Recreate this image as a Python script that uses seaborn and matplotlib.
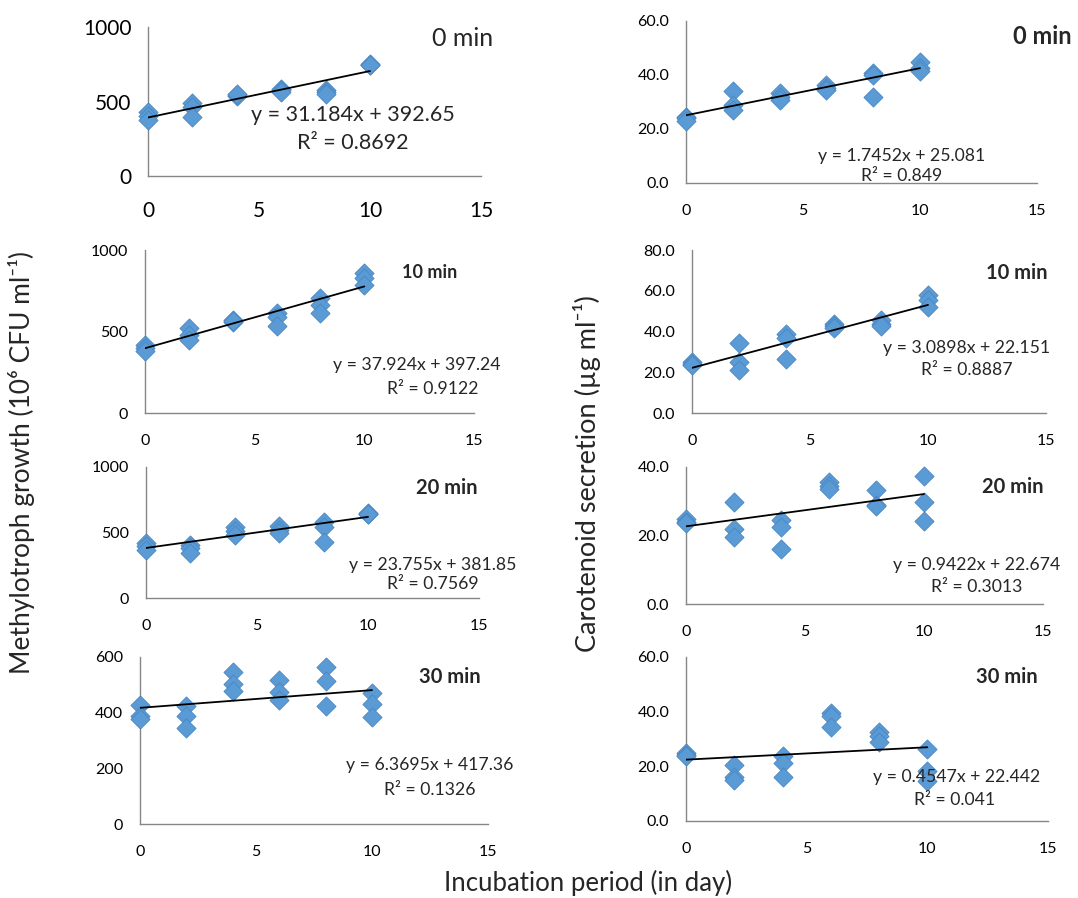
import numpy as np
import pandas as pd
import matplotlib.pyplot as plt
import matplotlib.ticker as mticker
import seaborn as sns

# ---------------------------------------------------------------------------
# Data
# ---------------------------------------------------------------------------
days = [0, 2, 4, 6, 8, 10]
exposures = ["0 min", "10 min", "20 min", "30 min"]

# Methylotroph growth (10^6 CFU/ml), replicates per day
growth_0 = [[430, 400, 375], [487, 460, 397], [542, 535, 548], [587, 575, 565], [576, 565, 553], [754, 748, 743]]
growth_10 = [[418, 400, 378], [520, 480, 449], [571, 561, 566], [612, 592, 535], [704, 663, 612], [857, 827, 786]]
growth_20 = [[418, 395, 367], [405, 380, 342], [544, 510, 481], [549, 520, 494], [582, 544, 430], [651, 645, 640]]
growth_30 = [[428, 388, 376], [424, 388, 344], [546, 502, 478], [519, 475, 445], [565, 513, 424], [469, 431, 383]]

# Carotenoid secretion (ug/ml)
carot_0 = [[24.5, 23.9, 23.0], [34.1, 28.8, 26.9], [33.2, 32.0, 30.7], [36.3, 35.2, 34.4], [40.8, 40.0, 31.7], [44.9, 42.5, 41.6]]
carot_10 = [[25.1, 24.0, 23.4], [34.4, 25.1, 21.3], [39.0, 37.0, 26.7], [43.6, 42.5, 41.5], [45.6, 43.8, 42.6], [57.9, 55.4, 51.8]]
carot_20 = [[24.8, 24.0, 23.6], [29.9, 22.0, 19.6], [24.6, 22.4, 16.0], [35.5, 34.5, 33.6], [33.4, 28.9, 28.5], [37.5, 29.9, 24.1]]
carot_30 = [[24.9, 24.2, 23.7], [20.4, 16.1, 14.9], [23.7, 21.3, 16.1], [39.6, 38.5, 34.5], [32.6, 31.0, 28.9], [26.2, 18.2, 14.6]]

# Linear trend lines as printed on the figure
growth_slope = [31.184, 37.924, 23.755, 6.3695]
growth_icept = [392.65, 397.24, 381.85, 417.36]
growth_r2 = ["0.8692", "0.9122", "0.7569", "0.1326"]
carot_slope = [1.7452, 3.0898, 0.9422, 0.4547]
carot_icept = [25.081, 22.151, 22.674, 22.442]
carot_r2 = ["0.849", "0.8887", "0.3013", "0.041"]

growth_ymax = [1000, 1000, 1000, 600]
growth_ystep = [500, 500, 500, 200]
carot_ymax = [60, 80, 40, 60]
carot_ystep = [20, 20, 20, 20]

growth_sets = [growth_0, growth_10, growth_20, growth_30]
carot_sets = [carot_0, carot_10, carot_20, carot_30]


def to_frame(reps):
    rows = []
    for d, vals in zip(days, reps):
        for v in vals:
            rows.append({"day": d, "value": v})
    return pd.DataFrame(rows)


# ---------------------------------------------------------------------------
# Layout (pixel boxes: left, top, right, bottom)
# ---------------------------------------------------------------------------
W, H = 1078, 898
left_boxes = [(148, 27, 481, 176), (145, 250, 474, 413), (146, 467, 479, 598), (140, 657, 488, 824)]
right_boxes = [(686, 21, 1037, 183), (692, 250, 1046, 413), (686, 467, 1043, 604), (686, 657, 1048, 821)]

# label / equation positions in pixels
left_lab = [(463, 38), (430, 273), (447, 488), (450, 677)]
left_lab_size = [18, 13, 14.5, 14.5]
left_eq = [(353, 115, 353, 143), (417, 365, 433, 389), (433, 565, 433, 584), (430, 765, 430, 790)]
right_lab = [(1013, 36), (1017, 273), (1013, 487), (1007, 677)]
right_lab_size = [17, 14.5, 14.5, 14.5]
right_eq = [(902, 156, 902, 176), (967, 348, 967, 370), (977, 565, 977, 587), (957, 777, 955, 800)]

sns.set_theme(style="white")
plt.rcParams["font.family"] = ["Lato", "DejaVu Sans"]

fig = plt.figure(figsize=(W / 100, H / 100), dpi=100)

POINT = "#5B9BD5"
EDGE = "#4A86C2"
AXIS = "#868686"


def fx(x):
    return x / W


def fy(y):
    return 1 - y / H


def make_axes(box):
    l, t, r, b = box
    return fig.add_axes([fx(l), fy(b), fx(r) - fx(l), fy(t) - fy(b)])


def style_axes(ax, ymax, ystep, fmt, tsize, xpad):
    ax.set_xlim(0, 15)
    ax.set_ylim(0, ymax)
    ax.set_xticks([0, 5, 10, 15])
    ax.set_yticks(np.arange(0, ymax + ystep / 2, ystep))
    ax.yaxis.set_major_formatter(mticker.FormatStrFormatter(fmt))
    for s in ["top", "right"]:
        ax.spines[s].set_visible(False)
    for s in ["left", "bottom"]:
        ax.spines[s].set_color(AXIS)
        ax.spines[s].set_linewidth(1.0)
    ax.tick_params(axis="both", direction="out", length=5, width=1, color=AXIS,
                   labelsize=tsize, labelcolor="black", pad=7)
    ax.tick_params(axis="x", pad=xpad)
    ax.set_xlabel("")
    ax.set_ylabel("")
    ax.grid(False)


def draw_panel(ax, reps, slope, icept):
    df = to_frame(reps)
    sns.scatterplot(data=df, x="day", y="value", ax=ax, marker="D", s=95,
                    color=POINT, edgecolor=EDGE, linewidth=0.6, clip_on=False, zorder=3)
    xs = np.array([days[0], days[-1]])
    ax.plot(xs, slope * xs + icept, color="black", lw=1.3, zorder=4)


for i in range(4):
    # left column: methylotroph growth
    ax = make_axes(left_boxes[i])
    draw_panel(ax, growth_sets[i], growth_slope[i], growth_icept[i])
    if i == 0:
        style_axes(ax, growth_ymax[i], growth_ystep[i], "%d", 15, 13)
    else:
        style_axes(ax, growth_ymax[i], growth_ystep[i], "%d", 11.5, 10)
    lx, ly = left_lab[i]
    ex, ey, rx, ry = left_eq[i]
    weight = "normal" if i == 0 else "bold"
    fig.text(fx(lx), fy(ly), exposures[i], fontsize=left_lab_size[i], fontweight=weight,
             ha="center", va="center")
    esize = 15.5 if i == 0 else 12.7
    fig.text(fx(ex), fy(ey), f"y = {growth_slope[i]}x + {growth_icept[i]}", fontsize=esize, ha="center", va="center")
    fig.text(fx(rx), fy(ry), f"R² = {growth_r2[i]}", fontsize=esize, ha="center", va="center")

    # right column: carotenoid secretion
    ax = make_axes(right_boxes[i])
    draw_panel(ax, carot_sets[i], carot_slope[i], carot_icept[i])
    style_axes(ax, carot_ymax[i], carot_ystep[i], "%.1f", 11.5, 10)
    lx, ly = right_lab[i]
    ex, ey, rx, ry = right_eq[i]
    fig.text(fx(lx), fy(ly), exposures[i], fontsize=right_lab_size[i], fontweight="bold",
             ha="left" if i == 0 else "center", va="center")
    fig.text(fx(ex), fy(ey), f"y = {carot_slope[i]}x + {carot_icept[i]}", fontsize=12.7, ha="center", va="center")
    fig.text(fx(rx), fy(ry), f"R² = {carot_r2[i]}", fontsize=12.7, ha="center", va="center")

# shared axis titles
fig.text(fx(22), fy(463), "Methylotroph growth (10⁶ CFU ml⁻¹)", fontsize=19, rotation=90, ha="center", va="center")
fig.text(fx(587), fy(474), "Carotenoid secretion (µg ml⁻¹)", fontsize=19.5, rotation=90, ha="center", va="center")
fig.text(fx(588), fy(883), "Incubation period (in day)", fontsize=18.5, ha="center", va="center")

fig.savefig("out.png", dpi=100)
